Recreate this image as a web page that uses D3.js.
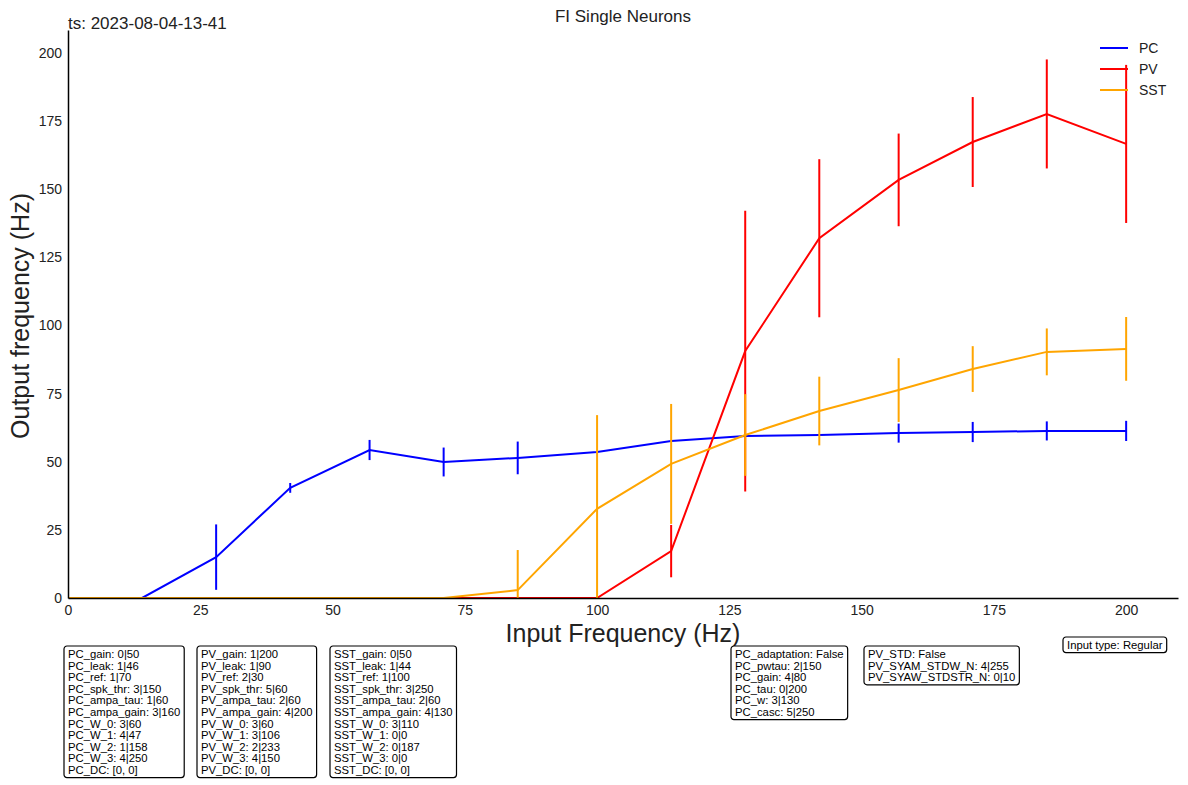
<!DOCTYPE html>
<html><head><meta charset="utf-8">
<script src="https://cdn.jsdelivr.net/npm/d3@7"></script>
<style>body{margin:0;background:#fff;font-family:"Liberation Sans",Arial,sans-serif}</style>
</head><body><svg id="c" width="1188" height="785"></svg>
<script>
var inputs = [0, 14, 28, 42, 57, 71, 85, 100, 114, 128, 142, 157, 171, 185, 200];
var pcMean = [0, 0, 15, 40.4, 54.3, 49.9, 51.4, 53.6, 57.6, 59.4, 59.8, 60.5, 60.9, 61.3, 61.3];
var pcErr  = [0, 0, 12, 1.8, 3.7, 5.3, 6, 0, 0, 0, 0, 3.5, 3.7, 3.5, 3.7];
var pvMean = [0, 0, 0, 0, 0, 0, 0, 0, 17.2, 90.6, 132, 153.4, 167.3, 177.6, 166.6];
var pvErr  = [0, 0, 0, 0, 0, 0, 0, 0, 9.6, 51.5, 29, 17, 16.5, 20, 29];
var sstMean = [0, 0, 0, 0, 0, 0, 2.9, 32.7, 49.2, 59.8, 68.6, 76.3, 84, 90.3, 91.4];
var sstErr  = [0, 0, 0, 0, 0, 0, 14.7, 34.4, 22, 15, 12.6, 11.7, 8.4, 8.6, 11.7];
var seriesNames = ["PC", "PV", "SST"];
var seriesColors = ["#0000ff", "#ff0000", "#ffa500"];
var xTicks = [0, 25, 50, 75, 100, 125, 150, 175, 200];
var yTicks = [0, 25, 50, 75, 100, 125, 150, 175, 200];
var boxes = [
  ["PC_gain: 0|50","PC_leak: 1|46","PC_ref: 1|70","PC_spk_thr: 3|150","PC_ampa_tau: 1|60","PC_ampa_gain: 3|160","PC_W_0: 3|60","PC_W_1: 4|47","PC_W_2: 1|158","PC_W_3: 4|250","PC_DC: [0, 0]"],
  ["PV_gain: 1|200","PV_leak: 1|90","PV_ref: 2|30","PV_spk_thr: 5|60","PV_ampa_tau: 2|60","PV_ampa_gain: 4|200","PV_W_0: 3|60","PV_W_1: 3|106","PV_W_2: 2|233","PV_W_3: 4|150","PV_DC: [0, 0]"],
  ["SST_gain: 0|50","SST_leak: 1|44","SST_ref: 1|100","SST_spk_thr: 3|250","SST_ampa_tau: 2|60","SST_ampa_gain: 4|130","SST_W_0: 3|110","SST_W_1: 0|0","SST_W_2: 0|187","SST_W_3: 0|0","SST_DC: [0, 0]"],
  ["PC_adaptation: False","PC_pwtau: 2|150","PC_gain: 4|80","PC_tau: 0|200","PC_w: 3|130","PC_casc: 5|250"],
  ["PV_STD: False","PV_SYAM_STDW_N: 4|255","PV_SYAW_STDSTR_N: 0|10"],
  ["Input type: Regular"]
];
var boxPos = [[64,646],[197,646],[330,646],[731,646],[864,646],[1063,637]];

var svg = d3.select("#c");
var L = 68, R = 1178, T = 30, B = 598;
var x = d3.scaleLinear().domain([0, 209.8]).range([L, R]);
var y = d3.scaleLinear().domain([0, 208.4]).range([B, T]);

svg.append("clipPath").attr("id", "clip").append("rect")
  .attr("x", L).attr("y", T - 10).attr("width", R - L).attr("height", B - T + 10);

var data = [[pcMean, pcErr], [pvMean, pvErr], [sstMean, sstErr]];
var g = svg.append("g").attr("clip-path", "url(#clip)");
var line = d3.line().x(function(d) { return x(d[0]); }).y(function(d) { return y(d[1]); });
data.forEach(function(s, k) {
  var pts = inputs.map(function(v, i) { return [v, s[0][i], s[1][i]]; });
  g.append("path").attr("d", line(pts)).attr("fill", "none")
    .attr("stroke", seriesColors[k]).attr("stroke-width", 2);
  g.selectAll(null).data(pts.filter(function(p) { return p[2] > 0; })).enter().append("line")
    .attr("x1", function(p) { return x(p[0]); }).attr("x2", function(p) { return x(p[0]); })
    .attr("y1", function(p) { return y(p[1] - p[2]); }).attr("y2", function(p) { return y(p[1] + p[2]); })
    .attr("stroke", seriesColors[k]).attr("stroke-width", 2);
});

var xa = svg.append("g").attr("transform", "translate(0," + B + ")")
  .call(d3.axisBottom(x).tickValues(xTicks).tickSize(0).tickPadding(4));
var ya = svg.append("g").attr("transform", "translate(" + L + ",0)")
  .call(d3.axisLeft(y).tickValues(yTicks).tickSize(0).tickPadding(6));
[xa, ya].forEach(function(a) {
  a.select(".domain").attr("stroke", "#000").attr("stroke-width", 1.5);
  a.selectAll("text").attr("font-size", 14).attr("fill", "#222").attr("font-family", "Liberation Sans, Arial, sans-serif");
});
xa.selectAll("text").attr("dy", "0.9em");

svg.append("text").attr("x", 623).attr("y", 642).attr("text-anchor", "middle")
  .attr("font-size", 25).attr("fill", "#222").text("Input Frequency (Hz)");
svg.append("text").attr("transform", "translate(29,316) rotate(-90)").attr("text-anchor", "middle")
  .attr("font-size", 25).attr("fill", "#222").text("Output frequency (Hz)");
svg.append("text").attr("x", 623).attr("y", 22).attr("text-anchor", "middle")
  .attr("font-size", 17).attr("fill", "#222").text("FI Single Neurons");
svg.append("text").attr("x", 68).attr("y", 29)
  .attr("font-size", 17).attr("fill", "#222").text("ts: 2023-08-04-13-41");

seriesNames.forEach(function(n, i) {
  var yy = 48 + i * 21;
  svg.append("line").attr("x1", 1100).attr("x2", 1128).attr("y1", yy).attr("y2", yy)
    .attr("stroke", seriesColors[i]).attr("stroke-width", 2);
  svg.append("text").attr("x", 1139).attr("y", yy + 5).attr("font-size", 14).attr("fill", "#222").text(n);
});

boxes.forEach(function(lines, b) {
  var bg = svg.append("g").attr("transform", "translate(" + boxPos[b][0] + "," + boxPos[b][1] + ")");
  var t = bg.append("text").attr("font-size", 11.3).attr("fill", "#000");
  lines.forEach(function(s, i) {
    t.append("tspan").attr("x", 4).attr("y", 12 + i * 11.6).text(s);
  });
  var w = t.node().getBBox().width + 8;
  bg.insert("rect", "text").attr("width", w).attr("height", lines.length * 11.6 + 4)
    .attr("rx", 3).attr("fill", "#fff").attr("stroke", "#000").attr("stroke-width", 1.2);
});
</script></body></html>
